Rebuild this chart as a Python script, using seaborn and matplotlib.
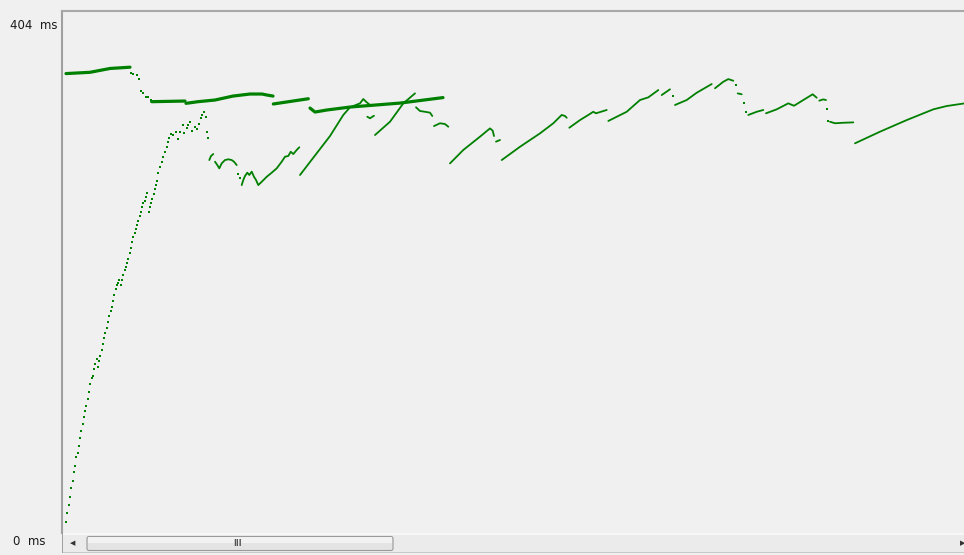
import matplotlib
matplotlib.use("Agg")
import matplotlib.pyplot as plt
import matplotlib.transforms as mtransforms
from matplotlib.patches import FancyBboxPatch, Rectangle
import pandas as pd
import seaborn as sns

# ---- response-time samples: elapsed time (s) and response time (ms) ----
# upper trace (thick)
top_a_t = [4, 28, 48, 68]
top_a_ms = [366, 367, 370, 371]
top_drop_t = [69, 71.3, 74.7, 77, 79, 81.3, 83.7, 86.3, 88.7]
top_drop_ms = [366.7, 365.7, 364.9, 361.5, 352.7, 351.0, 347.9, 347.9, 345.3]
top_b_t = [89.7, 123]
top_b_ms = [344.0, 344.5]
top_c_t = [124, 136, 153, 171, 188, 200, 205, 211]
top_c_ms = [342.7, 344.0, 345.3, 348.4, 350.0, 350.0, 349.2, 348.4]
top_d_t = [211.3, 246.3]
top_d_ms = [342.2, 346.3]
top_e_t = [248, 253, 265, 288, 338, 381]
top_e_ms = [339.0, 335.9, 337.5, 339.8, 342.9, 347.2]

# warm-up ramp (sparse samples)
ramp_t = [4.0, 5.3, 6.7, 8.0, 9.3, 10.7, 11.7, 13.0, 14.3, 15.7, 16.7, 18.0,
          19.3, 20.7, 21.7, 23.0, 24.3, 25.7, 27.0, 28.3, 29.7, 30.7, 32.0,
          33.3, 34.7, 36.0, 37.0, 38.3, 39.7, 40.7, 42.0, 43.3, 44.7, 46.0,
          47.3, 48.7, 50.0, 51.0, 52.3, 53.7, 55.0, 56.0, 57.3, 58.7, 59.7,
          61.3, 62.7, 64.0, 65.0, 66.3, 67.7, 68.7, 70.0, 71.3, 72.7, 74.0,
          75.0, 76.3, 77.7, 78.7, 80.0, 81.3, 82.7, 84.0, 85.3, 86.7, 88.0,
          89.0, 90.3, 91.7, 93.0, 94.3, 95.3, 96.3, 98.0, 99.7, 101.3, 103.0,
          104.7, 106.3, 107.3, 109.0, 111.3, 113.7, 115.7, 118.0, 120.7,
          122.3, 124.7, 126.3, 128.0, 130.3, 133.0, 135.3, 137.0, 138.7,
          140.3, 142.0, 143.7, 144.7, 145.7]
ramp_ms = [14.6, 21.7, 28.2, 34.7, 41.7, 47.2, 54.0, 58.7, 65.8, 68.7, 74.6,
           80.4, 86.1, 91.8, 97.3, 102.0, 105.9, 111.2, 116.7, 122.7, 127.4,
           129.2, 134.4, 138.8, 142.5, 136.0, 140.7, 144.9, 149.5, 154.2,
           159.2, 162.9, 167.0, 171.7, 176.4, 180.3, 183.5, 187.9, 192.6,
           197.1, 200.4, 201.8, 204.4, 200.4, 204.4, 208.3, 212.2, 214.3,
           217.9, 220.8, 225.7, 229.7, 234.4, 238.3, 240.9, 244.1, 247.4,
           250.8, 254.5, 257.4, 261.3, 264.4, 266.5, 269.1, 272.7, 257.4,
           261.3, 264.4, 267.8, 271.7, 275.6, 278.7, 281.9, 288.1, 293.1,
           297.0, 300.9, 304.8, 308.7, 312.6, 315.3, 318.7, 317.9, 320.5,
           314.5, 320.5, 325.7, 319.7, 323.1, 325.7, 327.8, 321.0, 324.4,
           322.4, 326.5, 331.0, 333.6, 336.1, 332.2, 320.5, 315.8]

# lower traces (thin)
low_1_t = [147.3, 149.0, 151.3]
low_1_ms = [298.3, 301.5, 303.0]
low_2_t = [153.0, 155.3, 157.3, 159.7, 163.0, 166.3, 169.7, 172.0, 174.7]
low_2_ms = [297.0, 294.4, 291.8, 295.7, 298.3, 298.9, 298.3, 297.0, 294.4]
low_3_t = [179.7, 181.3, 183.0, 185.3, 187.3, 189.7, 192.0, 194.0, 196.3,
           199.7, 204.7, 209.7, 214.7, 219.7, 223.0, 226.3, 228.7, 231.3,
           234.7, 237.3]
low_3_ms = [278.7, 282.7, 285.8, 288.4, 286.6, 289.2, 285.2, 282.7, 278.7,
            281.3, 285.2, 288.4, 291.8, 297.0, 300.9, 301.5, 304.8, 303.0,
            306.2, 308.3]
low_4_t = [238, 254.7, 268, 281.3, 288, 298, 301.3, 304, 308]
low_4_ms = [286.6, 303.6, 317.1, 333.6, 339.6, 342.7, 346.1, 344.0, 341.4]
low_5_t = [305.3, 308, 312]
low_5_ms = [332.2, 331.0, 333.0]
low_6_t = [313, 328, 341.3, 353]
low_6_ms = [317.9, 328.3, 342.7, 350.5]
low_7_t = [354, 358, 363, 368, 370.3]
low_7_ms = [339.6, 336.7, 336.1, 335.4, 332.8]
low_8_t = [372, 378, 383, 386.3]
low_8_ms = [324.9, 327.1, 326.5, 324.4]
low_9_t = [388, 401.3, 418, 428, 430.7, 432]
low_9_ms = [295.7, 306.2, 316.6, 323.1, 321.3, 317.1]
low_10_t = [434, 438]
low_10_ms = [312.7, 314.0]
low_11_t = [439.7, 458, 478, 491.3, 499.7, 503, 504.7]
low_11_ms = [298.3, 308.7, 319.2, 327.1, 333.6, 332.8, 331.4]
low_12_t = [507.3, 518, 526.3, 531.3, 534, 544.7]
low_12_ms = [323.6, 329.6, 333.6, 336.1, 334.9, 337.5]
low_13_t = [546.3, 564.7, 578, 586.3, 596.3]
low_13_ms = [328.9, 336.1, 345.3, 347.4, 353.1]
low_14_t = [599.7, 608]
low_14_ms = [349.2, 353.7]
low_15_t = [613, 624.7, 634.7, 649.7]
low_15_ms = [341.4, 345.3, 351.0, 357.8]
low_16_t = [653, 661.3, 666.3, 671.3]
low_16_ms = [354.5, 359.6, 361.7, 360.4]
low_17_t = [675.7, 679.7]
low_17_ms = [350.5, 349.8]
low_18_t = [686.3, 694.7, 701.3]
low_18_ms = [333.6, 336.1, 337.5]
low_19_t = [704, 714.7, 726.3, 732, 741.3, 750.7, 754.7]
low_19_ms = [334.9, 338.0, 342.7, 340.8, 345.3, 349.8, 347.1]
low_20_t = [757.3, 761.3, 764]
low_20_ms = [344.8, 345.8, 345.3]
low_21_t = [768, 773, 781.3, 791.3]
low_21_ms = [328.3, 327.1, 327.5, 327.8]
low_22_t = [793, 818, 844.7, 871.3, 884.7, 902]
low_22_ms = [311.4, 320.5, 329.6, 338.0, 340.6, 342.6]

# isolated samples between runs
loose_t = [176.3, 178.0, 611.3, 674, 682.3, 684, 764.7, 766.3]
loose_ms = [287.4, 284.0, 348.4, 357.0, 342.7, 336.1, 338.0, 329.1]

# axis labels
y_top_value = 404
y_bottom_value = 0
unit = "ms"

GREEN = "#008000"
BG = "#f0f0f0"


def frame(segments):
    rows = []
    for k, (ts, ms) in enumerate(segments):
        for t, v in zip(ts, ms):
            rows.append({"t": t, "ms": v, "seg": k})
    return pd.DataFrame(rows)


thick = frame([(top_a_t, top_a_ms), (top_b_t, top_b_ms), (top_c_t, top_c_ms),
               (top_d_t, top_d_ms), (top_e_t, top_e_ms)])
thin = frame([(low_1_t, low_1_ms), (low_2_t, low_2_ms), (low_3_t, low_3_ms),
              (low_4_t, low_4_ms), (low_5_t, low_5_ms), (low_6_t, low_6_ms),
              (low_7_t, low_7_ms), (low_8_t, low_8_ms), (low_9_t, low_9_ms),
              (low_10_t, low_10_ms), (low_11_t, low_11_ms),
              (low_12_t, low_12_ms), (low_13_t, low_13_ms),
              (low_14_t, low_14_ms), (low_15_t, low_15_ms),
              (low_16_t, low_16_ms), (low_17_t, low_17_ms),
              (low_18_t, low_18_ms), (low_19_t, low_19_ms),
              (low_20_t, low_20_ms), (low_21_t, low_21_ms),
              (low_22_t, low_22_ms)])
ramp = pd.DataFrame({"t": ramp_t, "ms": ramp_ms})
drop = pd.DataFrame({"t": top_drop_t, "ms": top_drop_ms})
loose = pd.DataFrame({"t": loose_t, "ms": loose_ms})

sns.set_style("white")
plt.rcParams["font.family"] = ["DejaVu Sans"]

W, H = 964, 555
fig = plt.figure(figsize=(W / 100, H / 100), dpi=100, facecolor=BG)

# plot area in pixels: x 62..964, y 11..533
ax = fig.add_axes([62 / W, (H - 533) / H, 902 / W, (533 - 11) / H])
ax.set_facecolor(BG)

sns.lineplot(data=thick, x="t", y="ms", units="seg", estimator=None,
             sort=False, color=GREEN, lw=2.3, ax=ax, legend=False)
sns.lineplot(data=thin, x="t", y="ms", units="seg", estimator=None,
             sort=False, color=GREEN, lw=1.3, ax=ax, legend=False)
sns.scatterplot(data=ramp, x="t", y="ms", color=GREEN, marker="s", s=2.5,
                linewidth=0, ax=ax, legend=False)
sns.scatterplot(data=drop, x="t", y="ms", color=GREEN, marker="s", s=3.5,
                linewidth=0, ax=ax, legend=False)
sns.scatterplot(data=loose, x="t", y="ms", color=GREEN, marker="s", s=3,
                linewidth=0, ax=ax, legend=False)

ax.set_xlim(0, 902)
ax.set_ylim(6.3, 415.0)
ax.set_xticks([])
ax.set_yticks([])
ax.set_xlabel("")
ax.set_ylabel("")
for side in ("right", "bottom"):
    ax.spines[side].set_visible(False)
ax.spines["left"].set_color("#a0a0a0")
ax.spines["left"].set_linewidth(1.5)
ax.spines["top"].set_color("#a8a8a8")
ax.spines["top"].set_linewidth(1.5)

# value labels on the left
lab = mtransforms.blended_transform_factory(fig.transFigure, ax.transData)
ax.text(10 / W, y_top_value, f"{y_top_value}  {unit}", transform=lab,
        ha="left", va="center", fontsize=8.5, color="#1a1a1a", clip_on=False)
ax.text(13 / W, y_bottom_value, f"{y_bottom_value}  {unit}", transform=lab,
        ha="left", va="center", fontsize=8.5, color="#1a1a1a", clip_on=False)

# horizontal scroll bar under the plot
sb = fig.add_axes([62 / W, (H - 553) / H, 902 / W, (553 - 533) / H])
sb.set_xlim(0, 902)
sb.set_ylim(0, 20)
sb.axis("off")
sb.add_patch(Rectangle((0, 0), 902, 20, facecolor="#ebebeb", edgecolor="none"))
sb.add_patch(Rectangle((0, 18.5), 902, 1.5, facecolor="#f7f7f7", edgecolor="none"))
sb.add_patch(Rectangle((0, 0), 902, 1, facecolor="#c8c8c8", edgecolor="none"))
sb.add_patch(Rectangle((0, 0), 1.5, 20, facecolor="#a0a0a0", edgecolor="none"))
sb.add_patch(FancyBboxPatch((25, 2.5), 306, 14, boxstyle="round,pad=0,rounding_size=2",
                            facecolor="#e4e4e4", edgecolor="#9a9a9a", lw=0.8))
sb.add_patch(Rectangle((26, 10), 304, 6, facecolor="#f2f2f2", edgecolor="none"))
sb.text(176, 9.5, "III", ha="center", va="center", fontsize=5.5,
        color="#555555", fontweight="bold")
sb.text(11, 9.5, "\u25c0", ha="center", va="center", fontsize=5, color="#333333")
sb.text(901, 9.5, "\u25b6", ha="center", va="center", fontsize=5, color="#333333")

fig.savefig("out.png", dpi=100, facecolor=BG)
